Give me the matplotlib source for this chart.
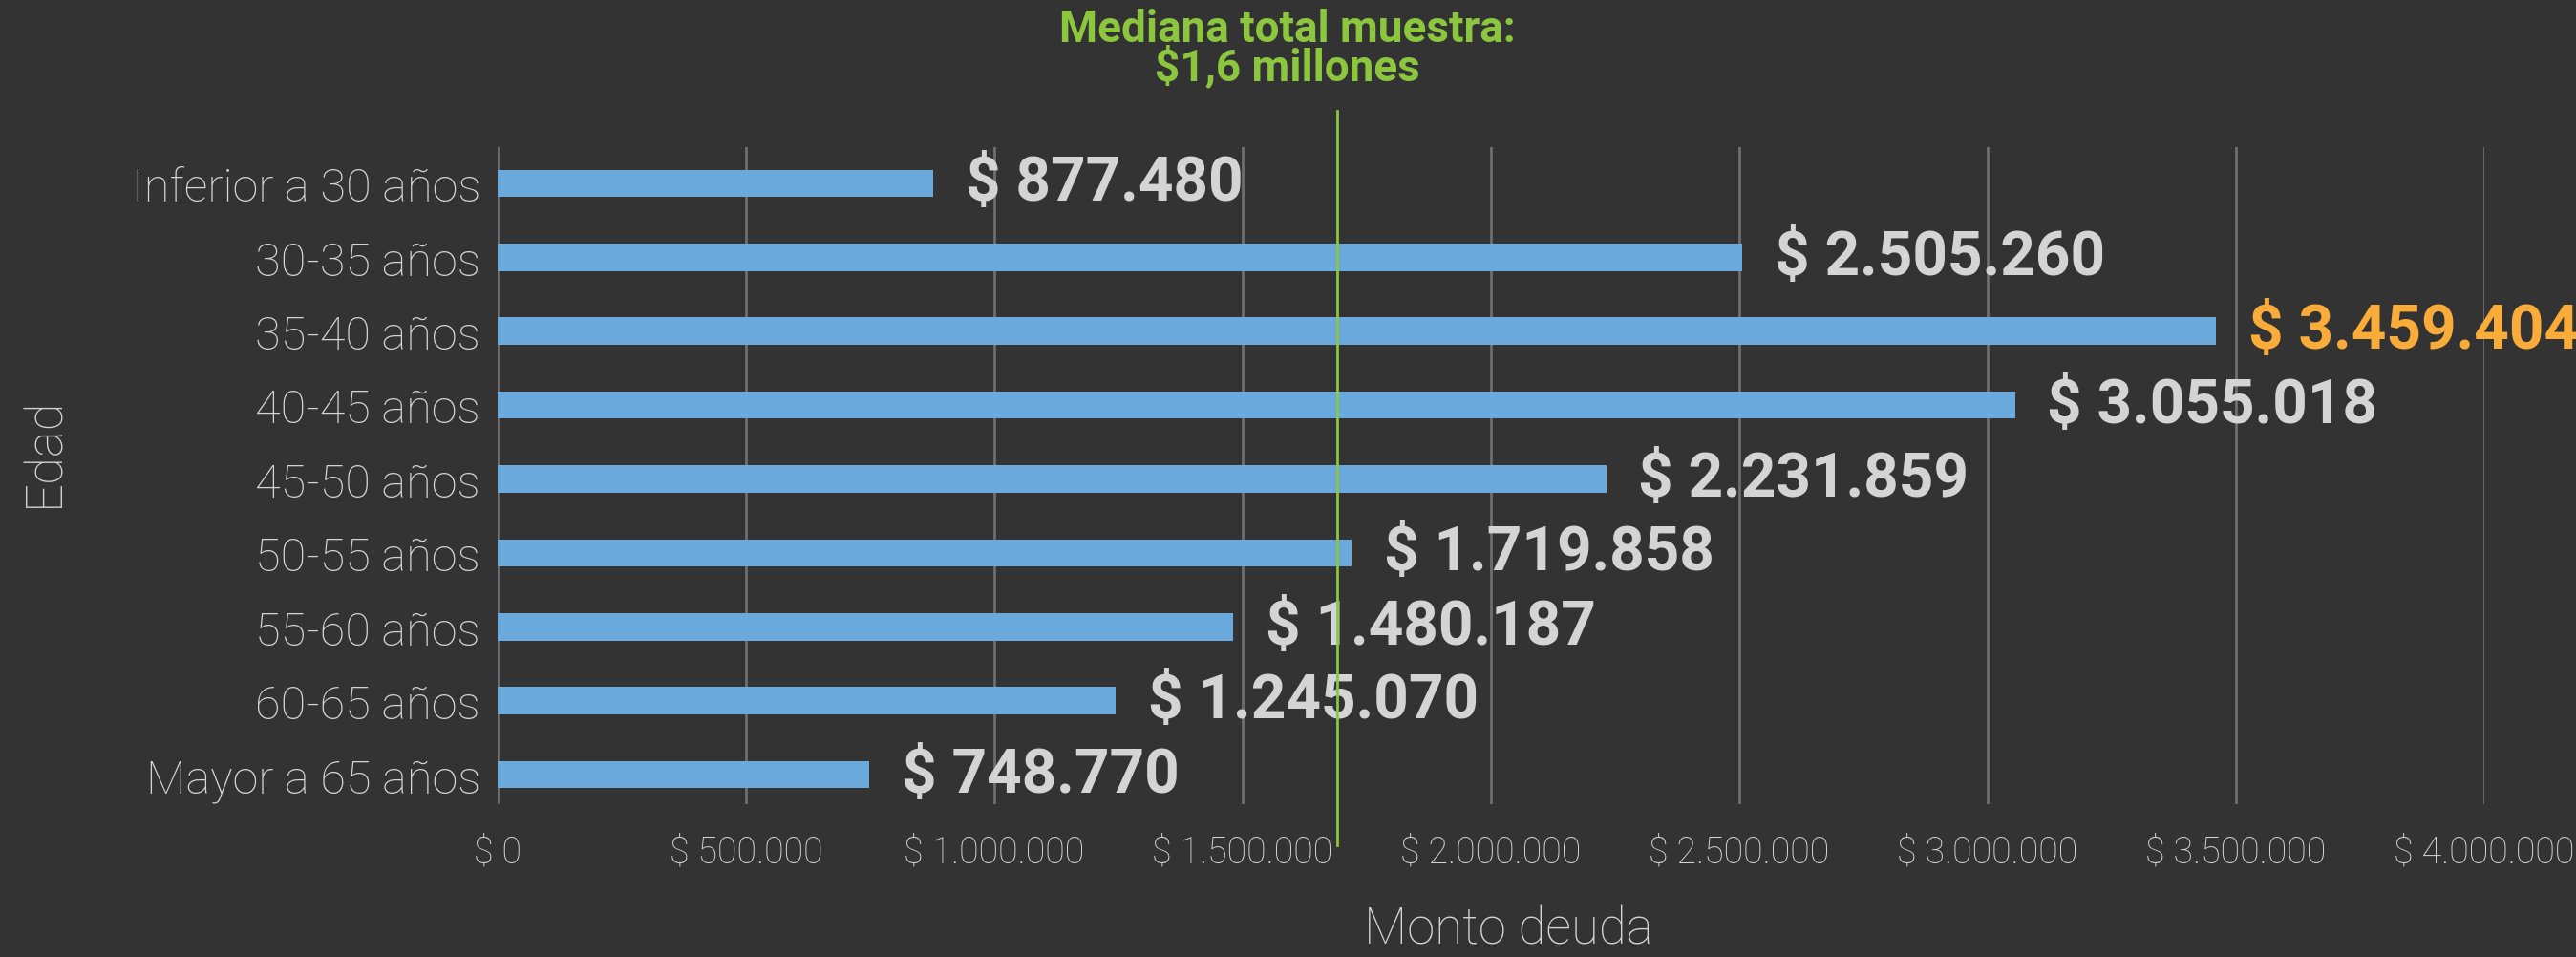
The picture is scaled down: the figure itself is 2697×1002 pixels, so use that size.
# Deuda mediana por tramo de edad
import matplotlib.pyplot as plt
from matplotlib.ticker import FuncFormatter

edades = ["Inferior a 30 años", "30-35 años", "35-40 años", "40-45 años",
          "45-50 años", "50-55 años", "55-60 años", "60-65 años", "Mayor a 65 años"]
montos = [877480, 2505260, 3459404, 3055018, 2231859, 1719858, 1480187, 1245070, 748770]
mediana = 1690000
xticks = [0, 500000, 1000000, 1500000, 2000000, 2500000, 3000000, 3500000, 4000000]

fondo = "#333333"
azul = "#6aa9dc"
gris_txt = "#d4d4d4"
verde = "#8cc63f"
naranja = "#f9ac3a"

plt.rcParams["font.family"] = ["Roboto", "DejaVu Sans"]


def pesos(v, pos=None):
    return "$ " + f"{int(v):,}".replace(",", ".")


fig = plt.figure(figsize=(26.97, 10.03), dpi=100, facecolor=fondo)
ax = fig.add_axes([0.1932, 0.1595, 0.7712, 0.686])
ax.set_facecolor(fondo)

y = list(range(len(edades)))
ax.barh(y, montos, height=0.37, color=azul, zorder=3)

# etiquetas de valor
i_max = montos.index(max(montos))
for i, v in enumerate(montos):
    col = naranja if i == i_max else gris_txt
    ax.text(v + 65000, i, pesos(v), va="center", ha="left", fontsize=46,
            fontweight="bold", color=col, zorder=4)

# línea de la mediana
ax.axvline(mediana, ymin=-0.0625, ymax=1.055, color=verde, lw=2, clip_on=False, zorder=5)
ax.text(mediana - 100000, 1.09, "Mediana total muestra:\n$1,6 millones",
        transform=ax.get_xaxis_transform(), ha="center", va="bottom",
        fontsize=33, fontweight="bold", color=verde, linespacing=0.85)

ax.set_xlim(0, 4000000)
ax.set_ylim(8.4, -0.49)
ax.set_xticks(xticks)
ax.xaxis.set_major_formatter(FuncFormatter(pesos))
ax.set_yticks(y)
ax.set_yticklabels(edades)

ax.grid(axis="x", color="#6e6e6e", lw=2, zorder=0)
ax.grid(axis="y", visible=False)
for s in ax.spines.values():
    s.set_visible(False)

ax.tick_params(axis="x", length=0, pad=22, labelsize=27, labelcolor=gris_txt)
ax.tick_params(axis="y", length=0, pad=13, labelsize=35, labelcolor=gris_txt)
for t in ax.get_xticklabels() + ax.get_yticklabels():
    t.set_fontweight("light")

ax.set_xlabel("Monto deuda", fontsize=38, color=gris_txt, fontweight="light")
ax.xaxis.set_label_coords(0.509, -0.19)
ax.xaxis.label.set_va("center")
ax.set_ylabel("Edad", fontsize=38, color=gris_txt, fontweight="light")
ax.yaxis.set_label_coords(-0.228, 0.538)
ax.yaxis.label.set_va("center")

plt.savefig("out.png", facecolor=fondo)
plt.close()
